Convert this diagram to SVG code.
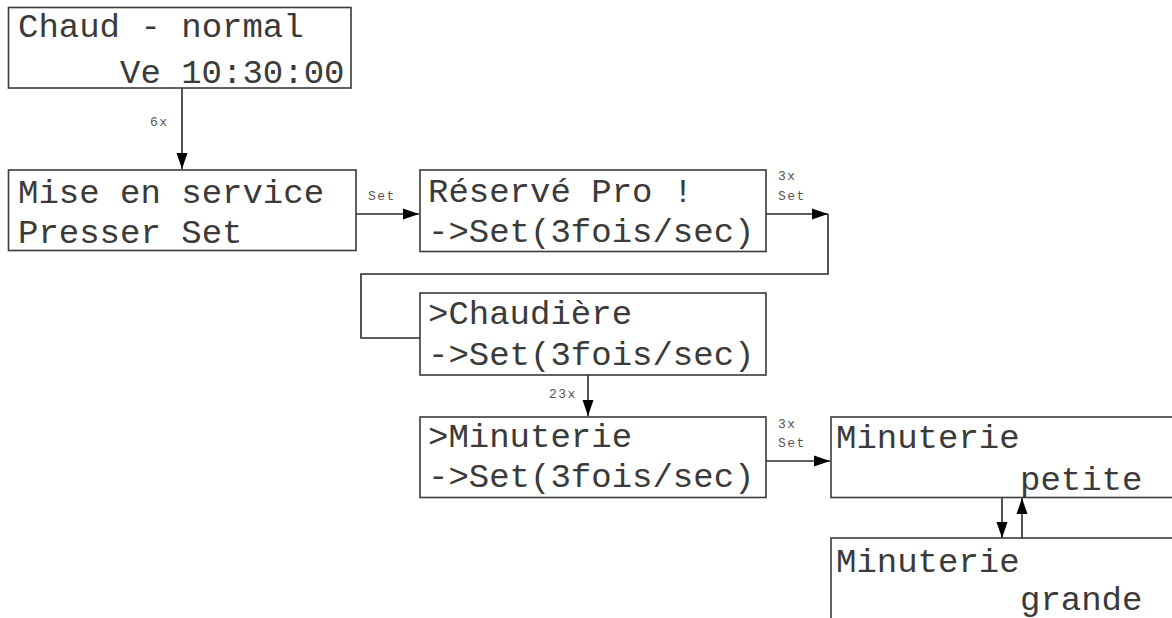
<svg xmlns="http://www.w3.org/2000/svg" width="1172" height="618" viewBox="0 0 1172 618">
<style>
.box{fill:#fff;stroke:#3a3a3a;stroke-width:1.6}
.t{font-family:"Liberation Mono","Courier New",monospace;font-size:34px;fill:#3a3a3a}
.l{font-family:"Liberation Mono","Courier New",monospace;font-size:13px;fill:#555;letter-spacing:1.5px}
.c{fill:none;stroke:#2a2a2a;stroke-width:1.6}
</style>
<defs>
<marker id="ah" viewBox="0 0 16 12" refX="16" refY="6" markerWidth="16" markerHeight="12" markerUnits="userSpaceOnUse" orient="auto">
<path d="M0,0.5 L16,6 L0,11.5 Z" fill="#000"/>
</marker>
</defs>
<g id="connectors">
<line class="c" x1="182" y1="88" x2="182" y2="169" marker-end="url(#ah)"/>
<text class="l" x="150" y="126">6x</text>
<line class="c" x1="356" y1="214" x2="419" y2="214" marker-end="url(#ah)"/>
<text class="l" x="368" y="200">Set</text>
<line class="c" x1="766" y1="214" x2="828" y2="214" marker-end="url(#ah)"/>
<polyline class="c" points="828,214 828,274 361,274 361,338 420,338"/>
<text class="l" x="778" y="180">3x</text>
<text class="l" x="778" y="200">Set</text>
<line class="c" x1="588" y1="375" x2="588" y2="416" marker-end="url(#ah)"/>
<text class="l" x="549" y="398">23x</text>
<line class="c" x1="766" y1="461" x2="830" y2="461" marker-end="url(#ah)"/>
<text class="l" x="778" y="428">3x</text>
<text class="l" x="778" y="447">Set</text>
<line class="c" x1="1002" y1="498" x2="1002" y2="538" marker-end="url(#ah)"/>
<line class="c" x1="1022" y1="538" x2="1022" y2="498" marker-end="url(#ah)"/>
</g>
<g id="n-chaud">
<rect class="box" x="8.5" y="7.5" width="342.5" height="80.5"/>
<text class="t" x="18" y="37">Chaud - normal</text>
<text class="t" x="120" y="83">Ve 10:30:00</text>
</g>
<g id="n-mise">
<rect class="box" x="8.5" y="170" width="347.5" height="80.5"/>
<text class="t" x="18" y="203">Mise en service</text>
<text class="t" x="18" y="243">Presser Set</text>
</g>
<g id="n-reserve">
<rect class="box" x="420" y="170" width="346" height="81.5"/>
<text class="t" x="428" y="202">Réservé Pro !</text>
<text class="t" x="428" y="242">-&gt;Set(3fois/sec)</text>
</g>
<g id="n-chaudiere">
<rect class="box" x="420" y="293" width="346" height="82"/>
<text class="t" x="428" y="324">&gt;Chaudière</text>
<text class="t" x="428" y="365">-&gt;Set(3fois/sec)</text>
</g>
<g id="n-minuterie">
<rect class="box" x="420" y="417" width="346" height="80.5"/>
<text class="t" x="428" y="447">&gt;Minuterie</text>
<text class="t" x="428" y="487">-&gt;Set(3fois/sec)</text>
</g>
<g id="n-petite">
<rect class="box" x="831" y="417" width="360" height="80.5"/>
<text class="t" x="836" y="448">Minuterie</text>
<text class="t" x="1020" y="490">petite</text>
</g>
<g id="n-grande">
<rect class="box" x="831" y="538" width="360" height="100"/>
<text class="t" x="836" y="572">Minuterie</text>
<text class="t" x="1020" y="610">grande</text>
</g>
</svg>
